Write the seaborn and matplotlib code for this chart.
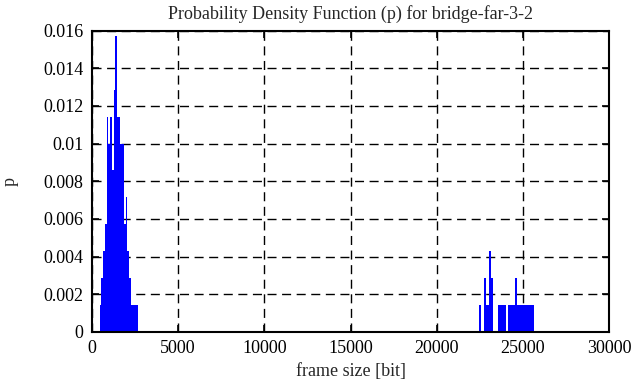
import numpy as np
import pandas as pd
import matplotlib
matplotlib.use("Agg")
import matplotlib.pyplot as plt
import seaborn as sns

# bins are 100 bit wide, values are p per bin (steps of 1/700)
bin_width = 100
left_start = 450
left_p = [1, 2, 3, 4, 8, 7, 8, 6, 9, 11, 8, 8, 7, 7, 4, 5, 3, 2, 1, 1, 1, 1]
right_start = 22450
right_p = [1, 0, 0, 2, 1, 1, 3, 2, 0, 0, 0, 1, 1, 1, 1, 1, 0,
           1, 1, 1, 1, 2, 1, 1, 1, 1, 1, 1, 1, 1, 1, 1]
unit = 1 / 700

x_ticks = [0, 5000, 10000, 15000, 20000, 25000, 30000]
y_ticks = [0, 0.002, 0.004, 0.006, 0.008, 0.01, 0.012, 0.014, 0.016]
y_labels = ["0", "0.002", "0.004", "0.006", "0.008", "0.01", "0.012", "0.014", "0.016"]

left_x = [left_start + bin_width * (i + 0.5) for i in range(len(left_p))]
right_x = [right_start + bin_width * (i + 0.5) for i in range(len(right_p))]
df = pd.DataFrame({
    "size": left_x + right_x,
    "p": [v * unit for v in left_p + right_p],
})

sns.set_style("ticks")
plt.rcParams["font.family"] = ["Liberation Serif", "DejaVu Serif"]

fig = plt.figure(figsize=(6.36, 3.87), dpi=100)
ax = fig.add_axes([92 / 636, 1 - 332 / 387, (609 - 92) / 636, (332 - 30.5) / 387])

sns.histplot(data=df, x="size", weights="p", binwidth=bin_width, binrange=(50, 30050),
             color="#0000ff", alpha=1, linewidth=0, element="bars", ax=ax)

ax.set_xlim(0, 30000)
ax.set_ylim(0, 0.016)
ax.set_xticks(x_ticks)
ax.set_xticklabels([str(t) for t in x_ticks])
ax.set_yticks(y_ticks)
ax.set_yticklabels(y_labels)
ax.grid(True, color="black", linestyle=(0, (6.5, 4)), linewidth=1)
ax.set_axisbelow(True)
ax.tick_params(direction="in", length=5, width=1.2, top=True, right=True,
               labelsize=13, colors="black", pad=6)
for s in ax.spines.values():
    s.set_linewidth(1.5)
    s.set_color("black")

ax.set_title("Probability Density Function (p) for bridge-far-3-2", fontsize=13, pad=8)
ax.set_xlabel("frame size [bit]", fontsize=13, labelpad=4)
ax.set_ylabel("p", fontsize=13, labelpad=18)

fig.savefig("out.png", dpi=100)
